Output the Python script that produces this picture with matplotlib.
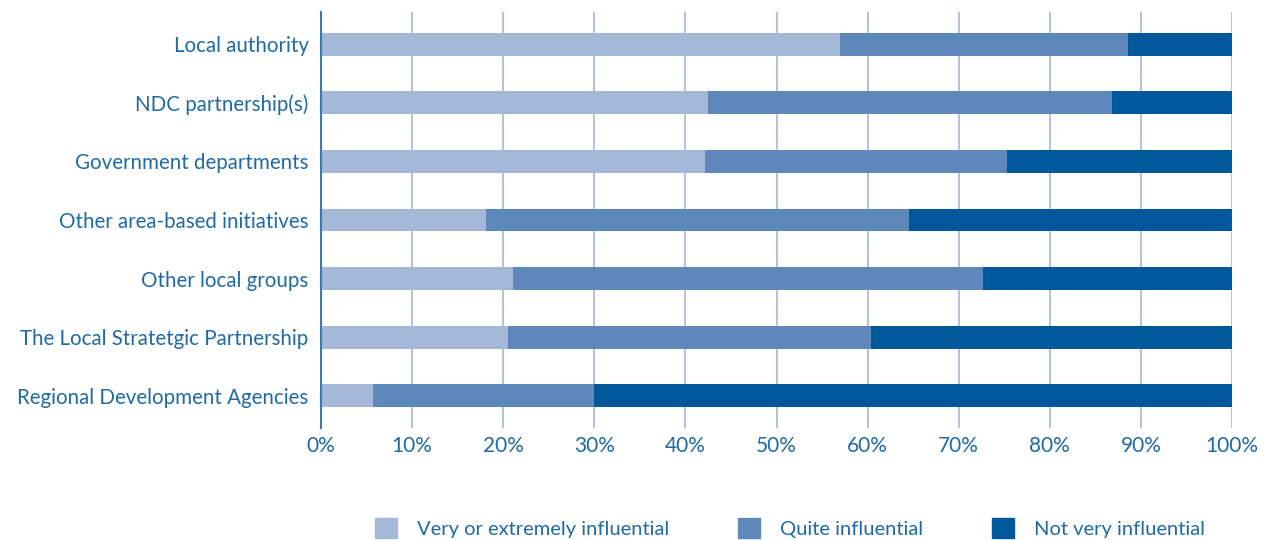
import matplotlib
matplotlib.use("Agg")
import matplotlib.pyplot as plt
from matplotlib.patches import Patch

categories = ["Local authority", "NDC partnership(s)", "Government departments",
              "Other area-based initiatives", "Other local groups",
              "The Local Stratetgic Partnership", "Regional Development Agencies"]
very = [57.0, 42.5, 42.2, 18.1, 21.1, 20.5, 5.7]
quite = [31.6, 44.3, 33.1, 46.4, 51.6, 39.9, 24.3]
notvery = [11.4, 13.2, 24.7, 35.5, 27.3, 39.6, 70.0]
series_names = ["Very or extremely influential", "Quite influential", "Not very influential"]

colors = ["#a4b8d8", "#5e87ba", "#00589a"]
txt = "#1f6aa5"

plt.rcParams['font.family'] = ['Lato', 'DejaVu Sans']

fig = plt.figure(figsize=(12.76, 5.4), dpi=100)
ax = fig.add_axes([321/1276, 1 - 428/540, 911/1276, 416/540])

y = list(range(len(categories)))
left = [0] * len(categories)
for vals, c in zip([very, quite, notvery], colors):
    ax.barh(y, vals, left=left, height=0.39, color=c, zorder=3)
    left = [l + v for l, v in zip(left, vals)]

ax.set_xlim(0, 100)
ax.set_ylim(6.55, -0.55)
ax.set_yticks(y)
ax.set_yticklabels(categories, fontsize=14.8, color=txt)
ax.set_xticks(range(0, 101, 10))
ax.set_xticklabels([f"{v}%" for v in range(0, 101, 10)], fontsize=15, color=txt)
ax.tick_params(axis='y', length=0, pad=9)
ax.tick_params(axis='x', length=0, pad=6)
ax.grid(axis='x', color="#a3b7d9", linewidth=1.2, zorder=0)
for s in ["top", "right", "bottom"]:
    ax.spines[s].set_visible(False)
ax.spines["left"].set_color("#3d78b2")
ax.spines["left"].set_linewidth(1.5)
ax.spines["left"].set_zorder(4)

handles = [Patch(color=c) for c in colors]
fig.legend(handles, series_names, loc='center', bbox_to_anchor=(790/1276, 1 - 528/540),
           ncol=3, frameon=False, fontsize=14.5, labelcolor=txt,
           handlelength=1.1, handleheight=1.1, handletextpad=1.0, columnspacing=3.4)

fig.savefig("out.png", dpi=100)
